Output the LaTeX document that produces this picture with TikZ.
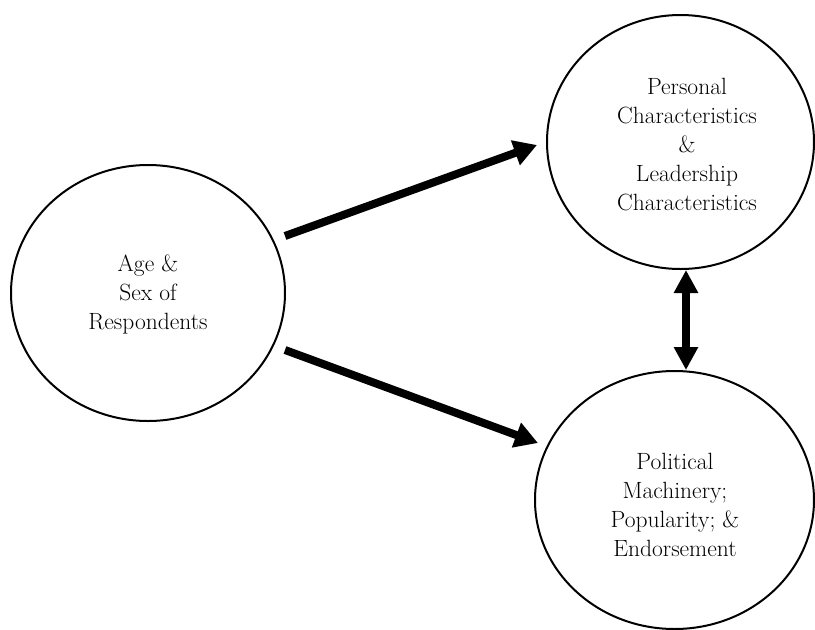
\documentclass[tikz,border=0pt]{standalone}
\usetikzlibrary{shapes.geometric,arrows.meta}
\begin{document}
\begin{tikzpicture}[x=1pt,y=-1pt,
  circ/.style={draw=black,line width=2pt,ellipse,inner sep=0pt},
  lbl/.style={align=center,font=\fontsize{23.5}{29}\selectfont,inner sep=0pt},
  bigarrow/.style={line width=8pt,-{Triangle[length=23pt,width=25pt]}},
  dblarrow/.style={line width=8.5pt,{Triangle[length=23pt,width=23pt]}-{Triangle[length=23pt,width=23pt]}}]
\useasboundingbox (0,0) rectangle (815,630);
\fill[white] (0,0) rectangle (815,630);
% ellipses
\node[circ,minimum width=274pt,minimum height=256pt] (L) at (148,293) {};
\node[circ,minimum width=267pt,minimum height=254pt] (P) at (680.5,142) {};
\node[circ,minimum width=279pt,minimum height=258pt] (B) at (674.5,500) {};
% texts
\node[lbl] (Lt) at (148,294) {Age \&\\Sex of\\Respondents};
\node[lbl] (Pt) at (687,145) {Personal\\Characteristics\\\&\\Leadership\\Characteristics};
\node[lbl] (Bt) at (675,505) {Political\\Machinery;\\Popularity; \&\\Endorsement};
% connector end points
\coordinate (a1s) at (285,236);
\coordinate (a1e) at (537,145);
\coordinate (a2s) at (285,350);
\coordinate (a2e) at (538,443);
\coordinate (a3s) at (686,270);
\coordinate (a3e) at (686,370);
\draw[bigarrow] (a1s) -- (a1e);
\draw[bigarrow] (a2s) -- (a2e);
\draw[dblarrow] (a3s) -- (a3e);
\end{tikzpicture}
\end{document}
